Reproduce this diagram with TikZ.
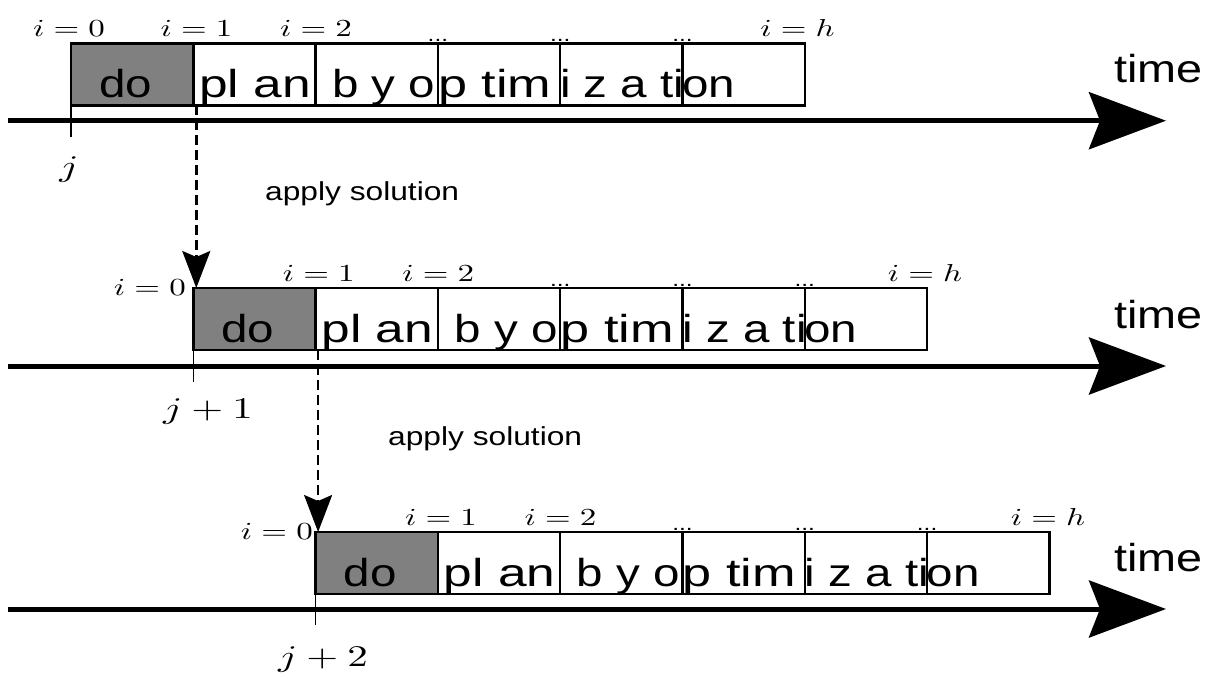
\documentclass[tikz,border=0pt]{standalone}
\usepackage{fontspec}
\setmainfont{Liberation Sans}
\usetikzlibrary{arrows.meta}
\definecolor{doGray}{RGB}{128,128,128}
% horizontally widened text
\newcommand{\sw}[2][1.22]{\scalebox{#1}[1]{#2}}
% index and time step formulas, set at 10pt and enlarged
\newcommand{\ilab}[1]{\scalebox{3.3}[2.45]{$#1$}}
\newcommand{\jlabt}[1]{\scalebox{4.1}[3.0]{$#1$}}
\tikzset{
  cell/.style={draw, line width=2.5pt, minimum width=122.3pt, minimum height=62pt,
               inner sep=0pt, outer sep=0pt, anchor=north west},
  docell/.style={cell, fill=doGray},
  word/.style={inner sep=0pt, anchor=base west, font=\fontsize{39}{39}\selectfont},
  note/.style={inner sep=0pt, anchor=base west, font=\fontsize{26}{26}\selectfont},
  dotsl/.style={inner sep=0pt, anchor=base, font=\fontsize{20}{20}\selectfont},
  idx/.style={inner sep=0pt, anchor=base, font=\fontsize{10}{10}\selectfont},
  jlab/.style={inner sep=0pt, anchor=base, font=\fontsize{10}{10}\selectfont},
  axis/.style={line width=5pt, -{Stealth[length=77pt,width=57pt,inset=11pt]}},
  tick/.style={line width=1.5pt},
  jump/.style={line width=2.5pt, dash pattern=on 10pt off 5pt,
               -{Stealth[length=37pt,width=28pt,inset=6pt]}},
}
\begin{document}
\begin{tikzpicture}[x=1pt,y=-1pt]
\useasboundingbox (0,0) rectangle (1205,678);
\fill[white] (0,0) rectangle (1205,678);

% one planning horizon per row: left edge X, top T, axis height A, position of i=h
\foreach \r/\X/\T/\A/\H in {1/71/43.3/120.7/797.5, 2/193.3/288/366/925, 3/315.6/532/609/1048} {
  % time axis
  \coordinate (as\r) at (8,\A);
  \coordinate (ae\r) at (1166,\A);
  \draw[axis] (as\r) -- (ae\r);
  \node[word] (time\r) at (1114,{\A-38}) {\sw[1.2]{time}};
  % horizon cells
  \node[docell] (c\r0) at (\X,\T) {};
  \foreach \k in {1,...,5} {
    \node[cell] (c\r\k) at ({\X+\k*122.3},\T) {};
  }
  % cell texts
  \node[word, anchor=base] (w\r0) at ({\X+54.5},{\T+54}) {\sw{do}};
  \node[word] (w\r1) at ({\X+128},{\T+54}) {\sw[1.32]{pl an}};
  \node[word] (w\r2) at ({\X+261},{\T+54}) {\sw{b y o}};
  \node[word] (w\r3) at ({\X+367},{\T+54}) {\sw[1.34]{p tim}};
  \node[word] (w\r4) at ({\X+489},{\T+54}) {\sw{i z a ti}};
  \node[word] (w\r5) at ({\X+611},{\T+54}) {\sw{on}};
  % current time step tick
  \coordinate (tk\r) at ({\X},{\A+16});
  \draw[tick] (c\r0.south west) -- (tk\r);
  % step indices
  \node[idx] (i\r1) at ({\X+125.5},{\T-6.5}) {\ilab{i=1}};
  \node[idx] (i\r2) at ({\X+245},{\T-6.5}) {\ilab{i=2}};
  \foreach \k in {3,4,5} {
    \node[dotsl] (d\r\k) at ({\X+\k*122.3},{\T-2}) {\sw{...}};
  }
  \node[idx] (ih\r) at (\H,{\T-6.5}) {\ilab{i=h}};
}

% i = 0 labels
\node[idx] (i10) at (69,36.8) {\ilab{i=0}};
\node[idx, anchor=base east] (i20) at (186,295) {\ilab{i=0}};
\node[idx, anchor=base east] (i30) at (313,539) {\ilab{i=0}};

% time step labels
\node[jlab] (j1) at (69,176) {\jlabt{j}};
\node[jlab] (j2) at (208,418) {\jlabt{j+1}};
\node[jlab] (j3) at (323,666) {\jlabt{j+2}};

% receding horizon shifts
\node[note] (ap1) at (265,200.7) {\sw{apply solution}};
\node[note] (ap2) at (388,445.5) {\sw{apply solution}};
\draw[jump] ([xshift=3pt]c11.south west) -- ([xshift=3pt]c20.north west);
\draw[jump] ([xshift=2.5pt]c21.south west) -- ([xshift=2.5pt]c30.north west);
\end{tikzpicture}
\end{document}
